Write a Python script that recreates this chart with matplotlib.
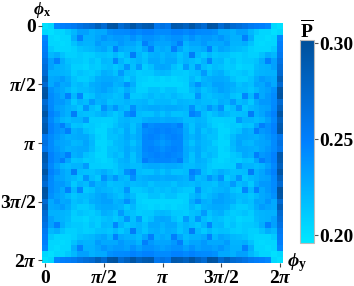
import matplotlib
matplotlib.use("Agg")
import matplotlib.pyplot as plt
import numpy as np
from matplotlib.colors import LinearSegmentedColormap

plt.rcParams["font.family"] = "Liberation Serif"
plt.rcParams["font.weight"] = "bold"
plt.rcParams["mathtext.fontset"] = "custom"
plt.rcParams["mathtext.rm"] = "Liberation Serif:bold"
plt.rcParams["mathtext.it"] = "Liberation Serif:italic:bold"
plt.rcParams["mathtext.bf"] = "Liberation Serif:bold"

# upper triangle of the top-left quadrant, row i holds columns i..20
quadrant_rows = [
    [.200, .204, .245, .250, .252, .255, .262, .268, .272, .285, .272, .295, .298, .272, .282, .295, .282, .290, .292, .258, .264],
    [.200, .205, .205, .212, .220, .232, .232, .224, .228, .228, .240, .243, .243, .244, .248, .244, .248, .248, .243, .243],
    [.202, .205, .205, .225, .248, .224, .224, .230, .238, .232, .236, .236, .232, .240, .232, .240, .240, .236, .232],
    [.203, .205, .215, .225, .222, .222, .234, .228, .228, .228, .236, .230, .230, .222, .250, .236, .230, .230],
    [.205, .208, .215, .218, .220, .226, .230, .220, .248, .228, .224, .224, .218, .230, .250, .224, .228],
    [.208, .212, .208, .210, .215, .216, .213, .220, .212, .220, .252, .222, .214, .224, .226, .220],
    [.212, .208, .215, .210, .220, .218, .245, .222, .213, .218, .222, .216, .228, .228, .222],
    [.205, .212, .210, .215, .218, .212, .218, .238, .216, .235, .210, .216, .228, .230],
    [.210, .215, .225, .222, .215, .235, .218, .215, .210, .212, .212, .218, .220],
    [.225, .228, .228, .225, .222, .212, .220, .210, .208, .205, .208, .205],
    [.232, .232, .222, .225, .240, .225, .208, .205, .205, .205, .205],
    [.225, .220, .215, .225, .218, .208, .208, .215, .215, .210],
    [.215, .218, .238, .212, .212, .215, .220, .215, .218],
    [.218, .222, .218, .220, .222, .215, .220, .220],
    [.218, .240, .222, .225, .228, .228, .225],
    [.248, .218, .215, .215, .222, .215],
    [.218, .225, .228, .228, .225],
    [.250, .242, .245, .245],
    [.245, .248, .245],
    [.245, .240],
    [.235],
]
tick_labels_x = ["0", r"$\pi$/2", r"$\pi$", r"3$\pi$/2", r"2$\pi$"]
tick_labels_y = ["0", r"$\pi$/2", r"$\pi$", r"3$\pi$/2", r"2$\pi$"]
cbar_ticks = [0.20, 0.25, 0.30]

quadrant = np.zeros((21, 21))
for i, row in enumerate(quadrant_rows):
    quadrant[i, i:] = row
    quadrant[i:, i] = row
top = np.hstack([quadrant, quadrant[:, -2::-1]])
grid = np.vstack([top, top[-2::-1, :]])

cmap = LinearSegmentedColormap.from_list(
    "cyan_blue",
    [(0.0, "#00e8ff"), (0.5, "#0080ff"), (1.0, "#00509a")],
)

W, H = 354, 286
fig = plt.figure(figsize=(W / 100, H / 100), dpi=100)
ax = fig.add_axes([42 / W, 1 - 263 / H, 241 / W, 240 / H])
im = ax.imshow(grid, cmap=cmap, vmin=0.196, vmax=0.3016, aspect="auto", interpolation="nearest")
for side in ax.spines.values():
    side.set_visible(False)
ticks = [0, 10, 20, 30, 40]
ax.set_xticks(ticks)
ax.set_xticklabels(tick_labels_x, fontsize=14)
ax.set_yticks(ticks)
ax.set_yticklabels(tick_labels_y, fontsize=14)
ax.tick_params(length=3, width=0.8, color="#444444", pad=1)
ax.tick_params(axis="x", pad=2)

cax = fig.add_axes([300 / W, 1 - 243 / H, 14 / W, 203 / H])
cb = fig.colorbar(im, cax=cax)
cb.set_ticks(cbar_ticks)
cb.set_ticklabels([f"{t:.2f}" for t in cbar_ticks], fontsize=14)
cb.ax.tick_params(length=3, width=0.8, color="#555555", pad=0.5)
cb.outline.set_edgecolor("#bbbbbb")
cb.outline.set_linewidth(0.8)

fig.text(42 / W, 1 - 10.5 / H, r"$\phi_{\mathrm{x}}$", fontsize=12.5, ha="center", va="center")
fig.text(297 / W, 1 - 263 / H, r"$\phi_{\mathrm{y}}$", fontsize=14, ha="center", va="center")
fig.text(307 / W, 1 - 30 / H, r"$\overline{\mathrm{P}}$", fontsize=14, ha="center", va="center")

fig.savefig("out.png", dpi=100)
plt.close(fig)
